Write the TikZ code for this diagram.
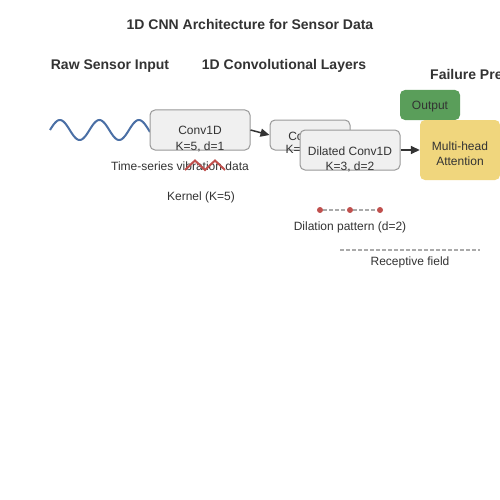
\documentclass[tikz,border=0pt]{standalone}
\usepackage{fontspec}
\setmainfont{Liberation Sans}
\usetikzlibrary{arrows.meta}
\definecolor{txt}{HTML}{333333}
\definecolor{boxfill}{HTML}{F0F0F0}
\definecolor{boxline}{HTML}{999999}
\definecolor{wave}{HTML}{4A6FA5}
\definecolor{kred}{HTML}{C0504D}
\definecolor{outgreen}{HTML}{5A9E5A}
\definecolor{attyellow}{HTML}{F0D67D}
\definecolor{dashgray}{HTML}{AAAAAA}
\tikzset{
  lbl/.style={text=txt, inner sep=0pt, anchor=base, font=\fontsize{12}{14}\selectfont},
  hdr/.style={text=txt, inner sep=0pt, anchor=base, font=\fontsize{14}{16}\selectfont\bfseries},
  layerbox/.style={draw=boxline, fill=boxfill, line width=1pt, rounded corners=5pt, inner sep=0pt},
  flat/.style={rounded corners=5pt, inner sep=0pt},
  conn/.style={draw=txt, line width=1.5pt, -{Triangle[length=9pt,width=8pt]}},
  dashln/.style={draw=dashgray, line width=1.2pt, dash pattern=on 4pt off 2pt},
}
\begin{document}
\begin{tikzpicture}[x=1pt,y=-1pt]
\useasboundingbox (0,0) rectangle (500,500);
\fill[white] (0,0) rectangle (500,500);
% headers
\node[hdr] (title) at (250,30) {1D CNN Architecture for Sensor Data};
\node[hdr] (hraw) at (110,70) {Raw Sensor Input};
\node[hdr] (hconv) at (284,70) {1D Convolutional Layers};
\node[hdr, anchor=base west] (hfail) at (430,80) {Failure Prediction};
% wave
\draw[wave, line width=2pt, domain=0:100, samples=100, smooth] plot ({50+\x},{130-10*sin(9.1139*\x)});
% boxes
\node[layerbox, minimum width=100pt, minimum height=40pt] (c1) at (200,130) {};
\node[lbl] (c1a) at (200,134.5) {Conv1D};
\node[lbl] (c1b) at (200,150.5) {K=5, d=1};
\node[layerbox, minimum width=80pt, minimum height=30pt] (c2) at (310,135) {};
\node[lbl] (c2a) at (310,140) {Conv1D};
\node[lbl] (c2b) at (310,153) {K=3, d=1};
\node[layerbox, minimum width=100pt, minimum height=40pt] (d1) at (350,150) {};
\node[lbl] (d1a) at (350,155.5) {Dilated Conv1D};
\node[lbl] (d1b) at (350,170.5) {K=3, d=2};
\node[flat, fill=outgreen, minimum width=60pt, minimum height=30pt] (out) at (430,105) {};
\node[lbl] (outt) at (430,109.5) {Output};
\node[flat, fill=attyellow, minimum width=80pt, minimum height=60pt] (att) at (460,150) {};
\node[lbl] (atta) at (460,150.5) {Multi-head};
\node[lbl] (attb) at (460,165.5) {Attention};
% connectors
\draw[conn] (c1.east) -- (c2.west);
\draw[conn] (d1.east) -- (att.west);
% annotations
\node[lbl] (ts) at (180,170.5) {Time-series vibration data};
\coordinate (k0) at (185,170);
\coordinate (k1) at (195,160.5);
\coordinate (k2) at (205,170);
\coordinate (k3) at (215,160.5);
\coordinate (k4) at (225,170);
\draw[kred, line width=2pt] (k0) -- (k1) -- (k2) -- (k3) -- (k4);
\node[lbl] (kern) at (201,200) {Kernel (K=5)};
\node[circle, fill=kred, inner sep=0pt, minimum size=6pt] (p1) at (320,210) {};
\node[circle, fill=kred, inner sep=0pt, minimum size=6pt] (p2) at (350,210) {};
\node[circle, fill=kred, inner sep=0pt, minimum size=6pt] (p3) at (380,210) {};
\draw[dashln] (p1) -- (p2);
\draw[dashln] (p2) -- (p3);
\node[lbl] (dil) at (350,230.5) {Dilation pattern (d=2)};
\coordinate (r0) at (340,250);
\coordinate (r1) at (480,250);
\draw[dashln] (r0) -- (r1);
\node[lbl] (rec) at (410,265.5) {Receptive field};
\end{tikzpicture}
\end{document}
